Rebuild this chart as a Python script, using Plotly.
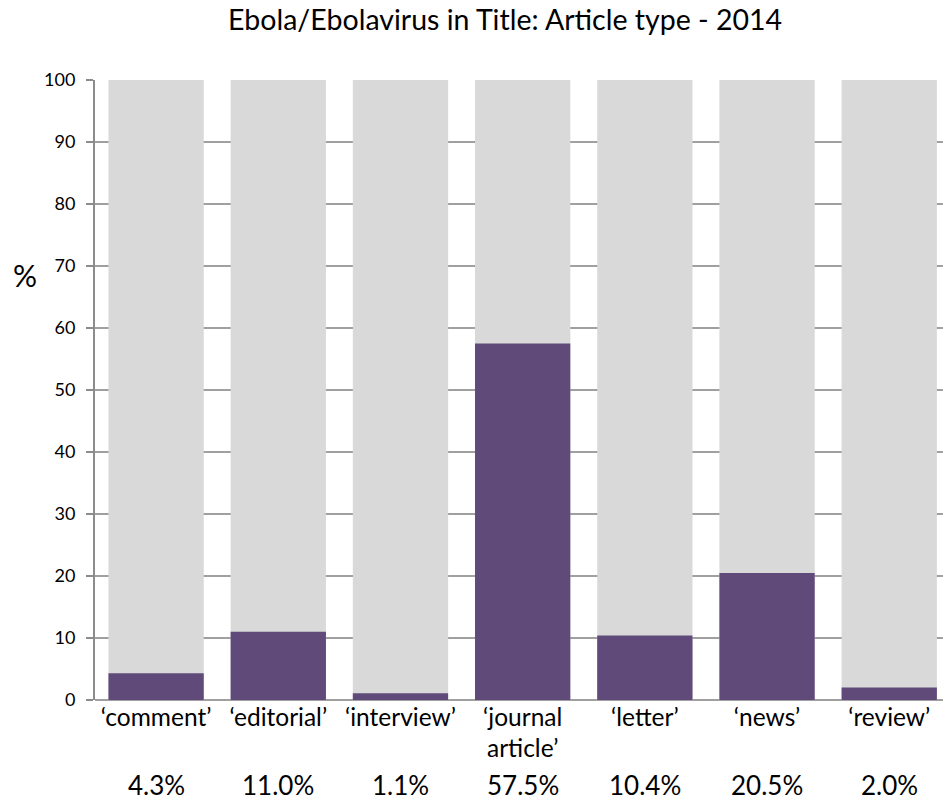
import plotly.graph_objects as go

categories = ["‘comment’", "‘editorial’", "‘interview’", "‘journal<br>article’", "‘letter’", "‘news’", "‘review’"]
values = [4.3, 11.0, 1.1, 57.5, 10.4, 20.5, 2.0]
totals = [100, 100, 100, 100, 100, 100, 100]
pct_labels = ["4.3%", "11.0%", "1.1%", "57.5%", "10.4%", "20.5%", "2.0%"]
y_ticks = [0, 10, 20, 30, 40, 50, 60, 70, 80, 90, 100]

FONT = "Lato, Open Sans, sans-serif"
W, H = 943, 803
plot_left, plot_top, plot_bot = 95, 80, 700
idx = list(range(len(categories)))

fig = go.Figure()
fig.add_trace(go.Bar(x=idx, y=totals, marker=dict(color="#d9d9d9", line=dict(width=0)),
                     hoverinfo="skip", showlegend=False))
fig.add_trace(go.Bar(x=idx, y=values, marker=dict(color="#5f4a7a", line=dict(width=0)),
                     showlegend=False))

for i, lab in zip(idx, pct_labels):
    fig.add_annotation(x=i, xref="x", y=(plot_bot - 785) / (plot_bot - plot_top), yref="paper",
                       text=lab, showarrow=False, yanchor="middle",
                       font=dict(size=26, color="#000", family=FONT))

fig.add_annotation(x=(25 - plot_left) / (W - plot_left), xref="paper", xanchor="center",
                   y=68.6, yref="y", text="%", showarrow=False,
                   font=dict(size=30, color="#000", family=FONT))

fig.update_layout(
    width=W, height=H,
    margin=dict(l=plot_left, r=0, t=plot_top, b=H - plot_bot),
    barmode="overlay", bargap=0.22,
    plot_bgcolor="white", paper_bgcolor="white",
    title=dict(text="Ebola/Ebolavirus in Title: Article type - 2014",
               x=(505 - plot_left) / (W - plot_left), xref="paper",
               xanchor="center", y=1 - 20 / H, yref="container", yanchor="middle",
               font=dict(size=28.5, color="#000", family=FONT)),
    xaxis=dict(tickmode="array", tickvals=idx, ticktext=categories, range=[-0.5, 6.44],
               showgrid=False, showline=False, ticks="", zeroline=False,
               tickfont=dict(size=24.5, color="#000", family=FONT)),
    yaxis=dict(range=[0, 100], tickvals=y_ticks, showgrid=True, gridcolor="#a0a0a0", gridwidth=1.5,
               showline=True, linecolor="#8c8c8c", linewidth=2, ticks="outside", ticklen=7,
               tickcolor="#8c8c8c", tickwidth=1.5, zeroline=True, zerolinecolor="#a0a0a0", zerolinewidth=2,
               ticklabelstandoff=7,
               tickfont=dict(size=18, color="#000", family=FONT)),
)
fig.write_html("out.html", config={"displayModeBar": False},
               post_script="document.body.style.margin='0';document.body.style.overflow='hidden';")
